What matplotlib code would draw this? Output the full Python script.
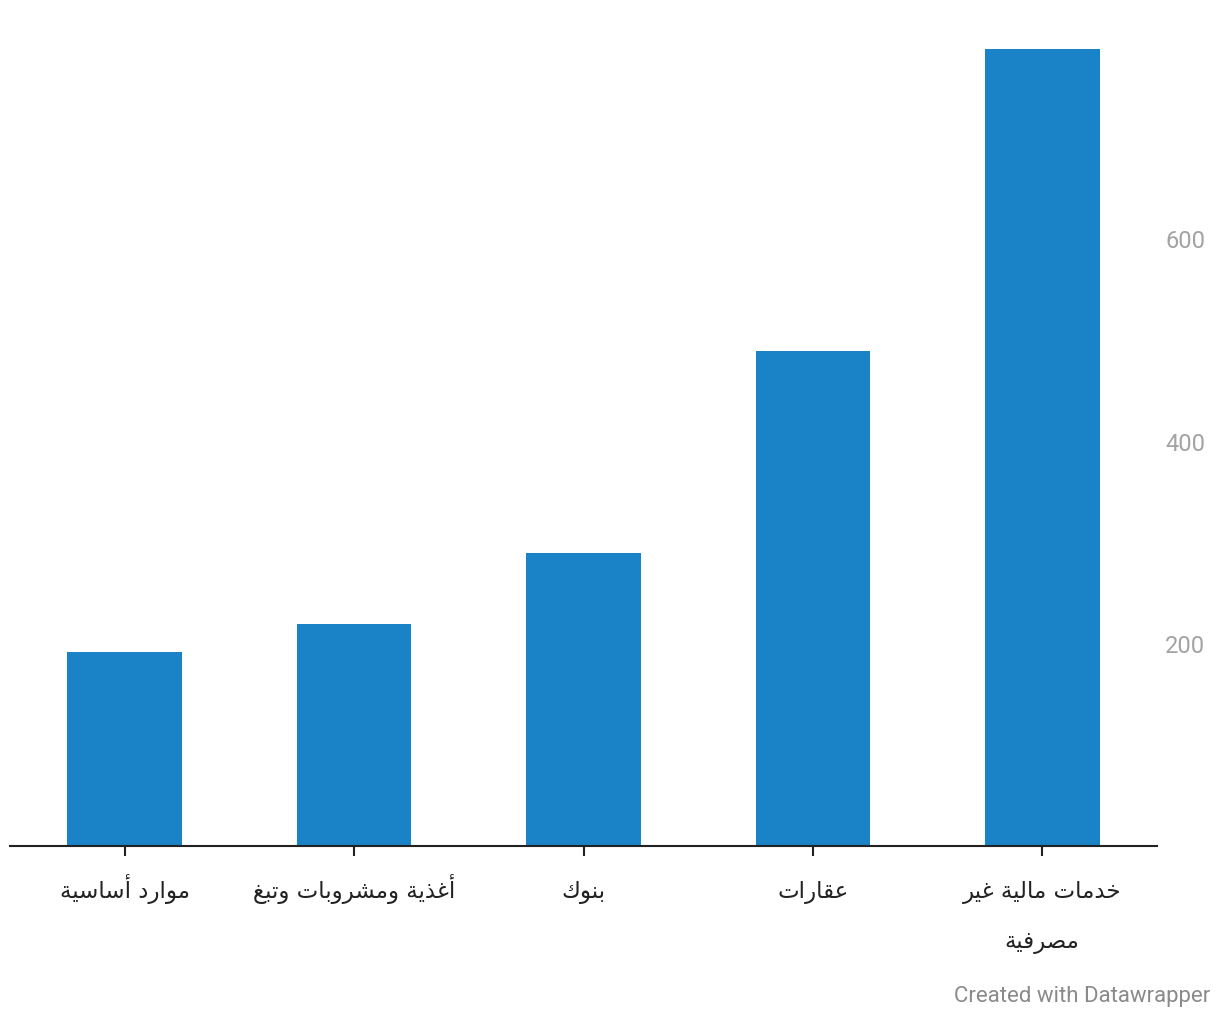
import matplotlib
matplotlib.use("Agg")
import matplotlib.pyplot as plt
from matplotlib.transforms import offset_copy

# data
sectors = ["موارد أساسية", "أغذية ومشروبات وتبغ", "بنوك", "عقارات", "خدمات مالية غير\nمصرفية"]
values = [192, 219, 289, 489, 787]
yticks = [200, 400, 600]

BAR = "#1a82c7"

# matplotlib has no Arabic shaping, so map letters to presentation forms
# (isolated, final, initial, medial) and reverse for right-to-left display
FORMS = {
    "ا": (0xFE8D, 0xFE8E, None, None),
    "أ": (0xFE83, 0xFE84, None, None),
    "ب": (0xFE8F, 0xFE90, 0xFE91, 0xFE92),
    "ة": (0xFE93, 0xFE94, None, None),
    "ت": (0xFE95, 0xFE96, 0xFE97, 0xFE98),
    "خ": (0xFEA5, 0xFEA6, 0xFEA7, 0xFEA8),
    "د": (0xFEA9, 0xFEAA, None, None),
    "ذ": (0xFEAB, 0xFEAC, None, None),
    "ر": (0xFEAD, 0xFEAE, None, None),
    "س": (0xFEB1, 0xFEB2, 0xFEB3, 0xFEB4),
    "ش": (0xFEB5, 0xFEB6, 0xFEB7, 0xFEB8),
    "ص": (0xFEB9, 0xFEBA, 0xFEBB, 0xFEBC),
    "ع": (0xFEC9, 0xFECA, 0xFECB, 0xFECC),
    "غ": (0xFECD, 0xFECE, 0xFECF, 0xFED0),
    "ف": (0xFED1, 0xFED2, 0xFED3, 0xFED4),
    "ق": (0xFED5, 0xFED6, 0xFED7, 0xFED8),
    "ك": (0xFED9, 0xFEDA, 0xFEDB, 0xFEDC),
    "ل": (0xFEDD, 0xFEDE, 0xFEDF, 0xFEE0),
    "م": (0xFEE1, 0xFEE2, 0xFEE3, 0xFEE4),
    "ن": (0xFEE5, 0xFEE6, 0xFEE7, 0xFEE8),
    "و": (0xFEED, 0xFEEE, None, None),
    "ي": (0xFEF1, 0xFEF2, 0xFEF3, 0xFEF4),
}


def shape_line(s):
    out = []
    for i, ch in enumerate(s):
        f = FORMS.get(ch)
        if f is None:
            out.append(ch)
            continue
        prev = s[i - 1] if i > 0 else None
        nxt = s[i + 1] if i + 1 < len(s) else None
        join_prev = prev in FORMS and FORMS[prev][2] is not None
        join_next = f[2] is not None and nxt in FORMS
        if join_prev and join_next:
            code = f[3]
        elif join_prev:
            code = f[1]
        elif join_next:
            code = f[2]
        else:
            code = f[0]
        out.append(chr(code))
    return "".join(out)[::-1]


fig = plt.figure(figsize=(12.2, 10.2), dpi=100)
ax = fig.add_axes([10 / 1220, 173 / 1020, 1147 / 1220, 801 / 1020])

x = list(range(len(sectors)))
ax.bar(x, values, width=0.5, color=BAR, zorder=2)

ax.set_xlim(-0.5, len(sectors) - 0.5)
ax.set_ylim(0, 791)

for s in ["top", "left", "right"]:
    ax.spines[s].set_visible(False)
ax.spines["bottom"].set_color("#222222")
ax.spines["bottom"].set_linewidth(1.5)
ax.spines["bottom"].set_zorder(3)

ax.set_xticks(x)
ax.set_xticklabels([])
ax.tick_params(axis="x", length=7, width=1.5, color="#222222")

# category labels, one text per line so every first line shares a baseline
for xi, name in zip(x, sectors):
    for k, line in enumerate(name.split("\n")):
        tr = offset_copy(ax.get_xaxis_transform(), fig=fig, y=-51 - 50 * k, units="dots")
        ax.text(xi, 0, shape_line(line), transform=tr, ha="center", va="baseline",
                fontfamily="DejaVu Sans", fontsize=16.5, color="#222222")

ax.yaxis.tick_right()
ax.set_yticks(yticks)
ax.set_yticklabels([str(v) for v in yticks], fontfamily="Roboto",
                   fontsize=17, color="#a3a3a3")
ax.tick_params(axis="y", length=0, pad=6)

fig.text(1210 / 1220, 1 - 997 / 1020, "Created with Datawrapper", ha="right",
         va="center", fontfamily="Roboto", fontsize=16, color="#8a8a8a")

fig.savefig("out.png", dpi=100, facecolor="white")
